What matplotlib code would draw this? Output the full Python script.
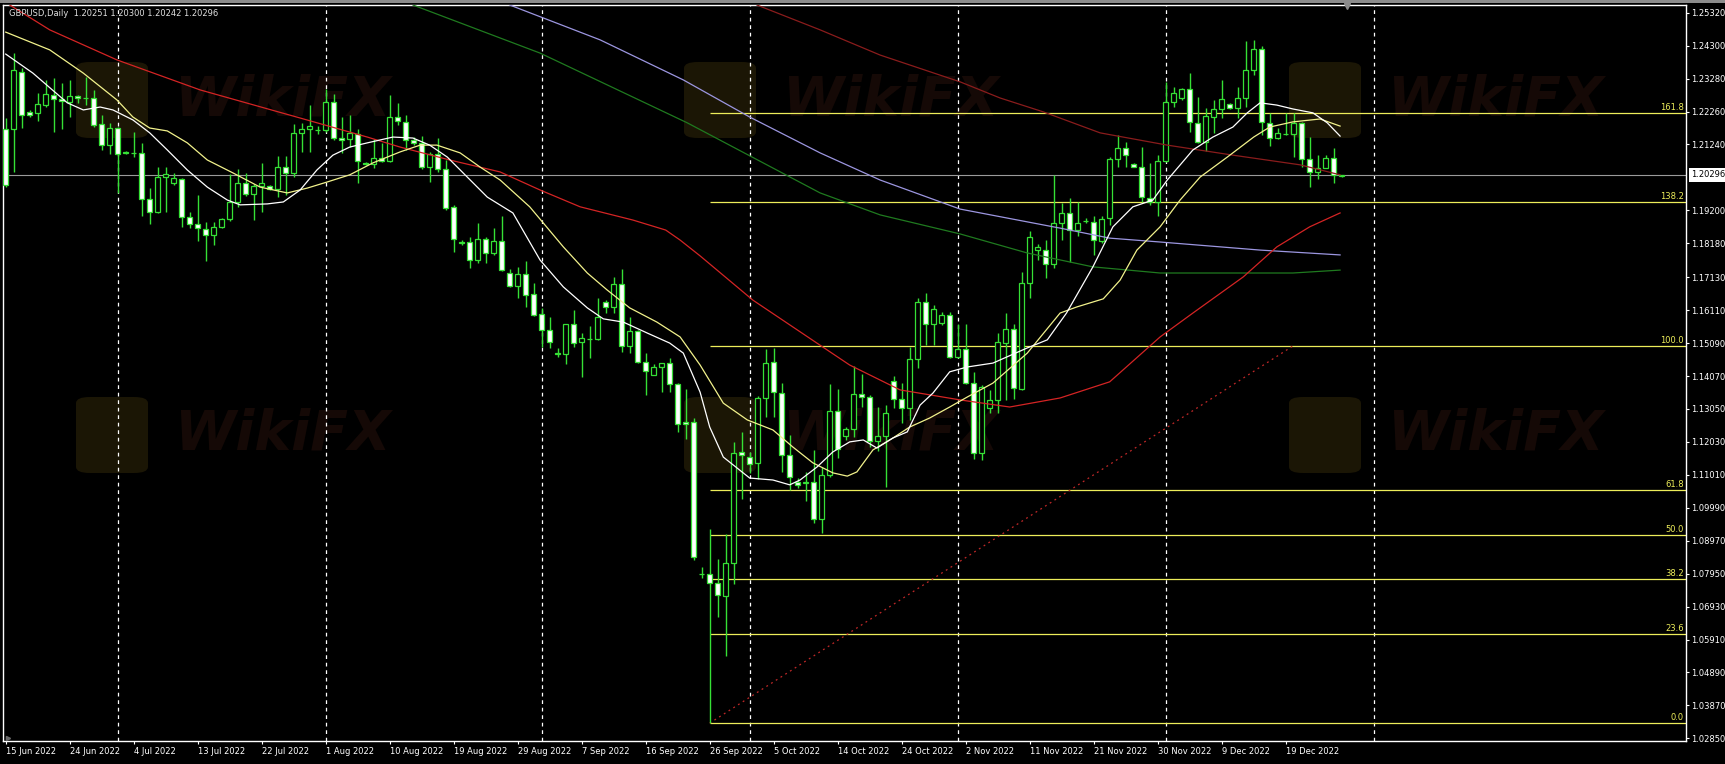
import numpy as np
import matplotlib
matplotlib.use('Agg')
import matplotlib.pyplot as plt
from matplotlib.patches import FancyBboxPatch, Rectangle
from matplotlib.transforms import blended_transform_factory

plt.rcParams['font.family'] = ['DejaVu Sans']
plt.rcParams['font.size'] = 6

title = 'GBPUSD,Daily  1.20251 1.20300 1.20242 1.20296'
bid = 1.20296

# daily candles, 15 Jun 2022 .. 27 Dec 2022 (broker with sunday bars)
opens = [1.2172, 1.2172, 1.2350, 1.2224, 1.2223, 1.2246, 1.2277, 1.2264, 1.2257, 1.2275,
         1.2269, 1.2267, 1.2186, 1.2122, 1.2174, 1.2100, 1.2099, 1.2099, 1.1954, 1.1916,
         1.2022, 1.2006, 1.2016, 1.1898, 1.1877, 1.1861, 1.1844, 1.1867, 1.1892, 1.1947,
         1.2006, 1.1971, 1.1994, 1.1996, 1.1985, 1.2053, 1.2035, 1.2161, 1.2173, 1.2169,
         1.2169, 1.2257, 1.2143, 1.2140, 1.2157, 1.2068, 1.2064, 1.2083, 1.2073, 1.2210,
         1.2195, 1.2138, 1.2128, 1.2055, 1.2095, 1.2047, 1.1931, 1.1821, 1.1821, 1.1766,
         1.1830, 1.1789, 1.1825, 1.1725, 1.1686, 1.1722, 1.1660, 1.1598, 1.1548, 1.1477,
         1.1474, 1.1567, 1.1511, 1.1522, 1.1521, 1.1637, 1.1620, 1.1691, 1.1501, 1.1546,
         1.1451, 1.1410, 1.1434, 1.1446, 1.1381, 1.1264, 1.1264, 1.0794, 1.0794, 1.0767,
         1.0726, 1.0829, 1.1171, 1.1155, 1.1137, 1.1338, 1.1451, 1.1355, 1.1161, 1.1080,
         1.1075, 1.1080, 1.0963, 1.1100, 1.1300, 1.1222, 1.1242, 1.1351, 1.1341, 1.1207,
         1.1222, 1.1393, 1.1335, 1.1307, 1.1459, 1.1637, 1.1568, 1.1570, 1.1596, 1.1467,
         1.1490, 1.1384, 1.1170, 1.1307, 1.1333, 1.1510, 1.1552, 1.1366, 1.1694, 1.1797,
         1.1797, 1.1753, 1.1880, 1.1913, 1.1859, 1.1887, 1.1885, 1.1826, 1.1895, 1.2078,
         1.2112, 1.2063, 1.2053, 1.1957, 1.1947, 1.2074, 1.2257, 1.2267, 1.2295, 1.2192,
         1.2133, 1.2210, 1.2233, 1.2248, 1.2236, 1.2269, 1.2355, 1.2419, 1.2192, 1.2143,
         1.2157, 1.2157, 1.2190, 1.2078, 1.2038, 1.2050, 1.2081, 1.20251]
highs = [1.2205, 1.2406, 1.2360, 1.2231, 1.2283, 1.2324, 1.2329, 1.2313, 1.2324, 1.2277,
         1.2334, 1.2293, 1.2215, 1.2190, 1.2179, 1.2105, 1.2164, 1.2128, 1.1988, 1.2055,
         1.2055, 1.2037, 1.2019, 1.1916, 1.1968, 1.1885, 1.1885, 1.1895, 1.2033, 1.2047,
         1.2037, 1.2002, 1.2066, 1.1999, 1.2088, 1.2088, 1.2188, 1.2190, 1.2246, 1.2181,
         1.2295, 1.2280, 1.2208, 1.2215, 1.2171, 1.2071, 1.2140, 1.2130, 1.2276, 1.2254,
         1.2215, 1.2146, 1.2149, 1.2102, 1.2143, 1.2076, 1.1936, 1.1828, 1.1839, 1.1880,
         1.1836, 1.1864, 1.1903, 1.1737, 1.1744, 1.1763, 1.1694, 1.1617, 1.1589, 1.1495,
         1.1567, 1.1612, 1.1541, 1.1562, 1.1648, 1.1642, 1.1713, 1.1737, 1.1591, 1.1550,
         1.1479, 1.1444, 1.1448, 1.1462, 1.1384, 1.1366, 1.1276, 1.0817, 1.0932, 1.0839,
         1.0917, 1.1204, 1.1235, 1.1173, 1.1345, 1.1490, 1.1493, 1.1384, 1.1224, 1.1090,
         1.1111, 1.1178, 1.1126, 1.1381, 1.1366, 1.1250, 1.1439, 1.1413, 1.1348, 1.1310,
         1.1317, 1.1407, 1.1384, 1.1498, 1.1648, 1.1663, 1.1627, 1.1606, 1.1606, 1.1568,
         1.1568, 1.1420, 1.1379, 1.1364, 1.1541, 1.1601, 1.1568, 1.1730, 1.1857, 1.1816,
         1.1828, 1.2030, 1.1944, 1.1957, 1.1947, 1.1895, 1.1901, 1.1903, 1.2086, 1.2153,
         1.2133, 1.2066, 1.2117, 1.2066, 1.2092, 1.2316, 1.2303, 1.2298, 1.2346, 1.2270,
         1.2236, 1.2262, 1.2324, 1.2252, 1.2303, 1.2446, 1.2448, 1.2429, 1.2221, 1.2174,
         1.2223, 1.2223, 1.2195, 1.2148, 1.2092, 1.2092, 1.2112, 1.20300]
lows = [1.1993, 1.2040, 1.2174, 1.2208, 1.2198, 1.2241, 1.2164, 1.2171, 1.2210, 1.2254,
        1.2246, 1.2179, 1.2107, 1.2095, 1.1975, 1.2095, 1.2086, 1.1901, 1.1877, 1.1913,
        1.1916, 1.1999, 1.1870, 1.1866, 1.1826, 1.1763, 1.1813, 1.1864, 1.1888, 1.1931,
        1.1965, 1.1890, 1.1916, 1.1983, 1.1962, 1.1968, 1.2024, 1.2102, 1.2102, 1.2156,
        1.2164, 1.2138, 1.2099, 1.2117, 1.2004, 1.2060, 1.2050, 1.2070, 1.2070, 1.2184,
        1.2107, 1.2122, 1.2049, 1.2009, 1.2040, 1.1921, 1.1792, 1.1813, 1.1741, 1.1756,
        1.1756, 1.1782, 1.1733, 1.1684, 1.1648, 1.1622, 1.1593, 1.1498, 1.1495, 1.1467,
        1.1443, 1.1496, 1.1405, 1.1462, 1.1517, 1.1603, 1.1601, 1.1482, 1.1479, 1.1448,
        1.1348, 1.1410, 1.1356, 1.1359, 1.1235, 1.1211, 1.0837, 1.0780, 1.0332, 1.0660,
        1.0540, 1.0763, 1.1025, 1.1106, 1.1087, 1.1281, 1.1281, 1.1111, 1.1054, 1.1061,
        1.1020, 1.0953, 1.0922, 1.1095, 1.1152, 1.1209, 1.1219, 1.1312, 1.1188, 1.1176,
        1.1062, 1.1307, 1.1260, 1.1271, 1.1431, 1.1503, 1.1503, 1.1565, 1.1462, 1.1462,
        1.1382, 1.1149, 1.1147, 1.1291, 1.1291, 1.1333, 1.1335, 1.1364, 1.1648, 1.1766,
        1.1710, 1.1741, 1.1828, 1.1761, 1.1841, 1.1880, 1.1782, 1.1820, 1.1875, 1.2055,
        1.2055, 1.2053, 1.1947, 1.1937, 1.1901, 1.2071, 1.2241, 1.2262, 1.2164, 1.2130,
        1.2105, 1.2159, 1.2205, 1.2233, 1.2205, 1.2241, 1.2339, 1.2153, 1.2119, 1.2140,
        1.2153, 1.2086, 1.2055, 1.1991, 1.2016, 1.2050, 1.2004, 1.20242]
closes = [1.1999, 1.2355, 1.2215, 1.2215, 1.2249, 1.2279, 1.2265, 1.2258, 1.2274, 1.2269,
          1.2268, 1.2184, 1.2122, 1.2174, 1.2093, 1.2099, 1.2098, 1.1954, 1.1916, 1.2024,
          1.2033, 1.2019, 1.1898, 1.1877, 1.1864, 1.1844, 1.1867, 1.1892, 1.1947, 1.2004,
          1.1971, 1.1994, 1.2004, 1.1986, 1.2053, 1.2035, 1.2161, 1.2173, 1.2181, 1.2168,
          1.2257, 1.2143, 1.2138, 1.2159, 1.2073, 1.2063, 1.2083, 1.2073, 1.2210, 1.2197,
          1.2138, 1.2128, 1.2055, 1.2095, 1.2047, 1.1928, 1.1830, 1.1820, 1.1766, 1.1830,
          1.1789, 1.1825, 1.1735, 1.1686, 1.1722, 1.1658, 1.1596, 1.1548, 1.1513, 1.1476,
          1.1567, 1.1510, 1.1524, 1.1521, 1.1591, 1.1620, 1.1691, 1.1501, 1.1546, 1.1451,
          1.1424, 1.1434, 1.1446, 1.1381, 1.1257, 1.1257, 1.0848, 1.0793, 1.0765, 1.0729,
          1.0829, 1.1170, 1.1161, 1.1135, 1.1338, 1.1448, 1.1356, 1.1161, 1.1093, 1.1071,
          1.1080, 1.0963, 1.1100, 1.1300, 1.1180, 1.1242, 1.1351, 1.1341, 1.1207, 1.1222,
          1.1294, 1.1335, 1.1307, 1.1459, 1.1637, 1.1568, 1.1614, 1.1596, 1.1467, 1.1490,
          1.1384, 1.1170, 1.1374, 1.1333, 1.1513, 1.1552, 1.1369, 1.1694, 1.1837, 1.1808,
          1.1753, 1.1880, 1.1913, 1.1859, 1.1882, 1.1886, 1.1828, 1.1894, 1.2078, 1.2112,
          1.2091, 1.2055, 1.1962, 1.1947, 1.2074, 1.2257, 1.2283, 1.2295, 1.2195, 1.2133,
          1.2212, 1.2233, 1.2264, 1.2236, 1.2269, 1.2355, 1.2419, 1.2193, 1.2143, 1.2159,
          1.2156, 1.2190, 1.2078, 1.2038, 1.2050, 1.2081, 1.2028, 1.20296]

# moving average lines (bar index, price)
ma_white_x = [0, 3.4, 7.7, 9.7, 11.8, 13.4, 15.9, 18.0, 20.2, 22.7, 25.2, 27.7, 29.3, 32.7, 34.7,
              36.8, 38.9, 40.9, 43.0, 45.2, 48.4, 50.9, 53.0, 55.2, 57.7, 60.2, 63.4, 66.8, 69.7,
              72.7, 74.7, 77.2, 80.2, 83.0, 84.7, 86.8, 88.0, 89.7, 93.0, 95.9, 98.0, 99.3, 101.4,
              103.4, 105.5, 107.2, 108.9, 110.9, 112.7, 114.3, 115.9, 118.0, 120.2, 123.4, 127.7,
              130.2, 132.6, 135.9, 138.4, 140.9, 143.4, 145.2, 148.4, 150.9, 153.4, 155.2, 156.8,
              158.9, 160.9, 163.4, 165.2, 166.8]
ma_white_y = [1.2404, 1.2345, 1.2253, 1.2231, 1.2240, 1.2231, 1.2200, 1.2160, 1.2107, 1.2045,
              1.1992, 1.1952, 1.1937, 1.1940, 1.1946, 1.1983, 1.2045, 1.2091, 1.2116, 1.2129,
              1.2147, 1.2144, 1.2122, 1.2085, 1.2023, 1.1961, 1.1912, 1.1766, 1.1683, 1.1618,
              1.1584, 1.1574, 1.1540, 1.1509, 1.1478, 1.1357, 1.1249, 1.1156, 1.1091, 1.1085,
              1.1070, 1.1085, 1.1125, 1.1172, 1.1203, 1.1209, 1.1184, 1.1215, 1.1234, 1.1317,
              1.1354, 1.1420, 1.1435, 1.1447, 1.1494, 1.1519, 1.1602, 1.1745, 1.1869, 1.1931,
              1.1952, 1.2014, 1.2107, 1.2147, 1.2178, 1.2222, 1.2253, 1.2246, 1.2234, 1.2222,
              1.2191, 1.2150]
ma_yellow_x = [0, 5.5, 9.7, 13.9, 15.9, 18.0, 20.2, 22.7, 25.2, 28.4, 31.8, 35.2, 37.7, 40.2, 43.0,
               45.9, 49.3, 51.8, 53.9, 56.8, 59.3, 61.8, 65.5, 69.7, 72.7, 75.2, 78.0, 81.4, 84.3,
               86.8, 89.7, 92.7, 95.9, 98.4, 100.9, 103.4, 105.2, 106.4, 108.4, 110.9, 113.0, 115.5,
               118.0, 120.2, 123.4, 127.7, 131.8, 133.9, 137.2, 139.3, 141.4, 144.3, 146.8, 149.3,
               152.7, 156.0, 158.0, 160.9, 164.3, 166.8]
ma_yellow_y = [1.2472, 1.2417, 1.2345, 1.2262, 1.2209, 1.2175, 1.2166, 1.2129, 1.2076, 1.2036,
               1.1992, 1.1974, 1.1989, 1.2008, 1.2030, 1.2067, 1.2101, 1.2122, 1.2122, 1.2098,
               1.2054, 1.2014, 1.1931, 1.1807, 1.1726, 1.1673, 1.1618, 1.1574, 1.1528, 1.1441,
               1.1323, 1.1271, 1.1240, 1.1187, 1.1138, 1.1107, 1.1097, 1.1110, 1.1178, 1.1215,
               1.1249, 1.1277, 1.1311, 1.1342, 1.1385, 1.1478, 1.1602, 1.1621, 1.1646, 1.1704,
               1.1797, 1.1869, 1.1952, 1.2023, 1.2085, 1.2147, 1.2178, 1.2194, 1.2203, 1.2181]
ma_red_x = [0.5, 5.5, 13.9, 24.3, 36.8, 45.2, 49.3, 55.5, 61.8, 66.8, 71.8, 78.4, 82.5, 84.3, 86.8,
            93.4, 101.4, 105.5, 111.8, 119.3, 125.5, 131.8, 138.0, 144.3, 148.4, 154.7, 158.9,
            163.0, 166.8]
ma_red_y = [1.2556, 1.2479, 1.2386, 1.2293, 1.2206, 1.2147, 1.2116, 1.2076, 1.2039, 1.1983,
            1.1931, 1.1890, 1.1859, 1.1828, 1.1779, 1.1642, 1.1509, 1.1441, 1.1364, 1.1333,
            1.1311, 1.1339, 1.1389, 1.1528, 1.1602, 1.1714, 1.1807, 1.1869, 1.1912]
ma_maroon_x = [93.9, 101.8, 109.3, 119.3, 124.3, 129.7, 136.8, 145.2, 153.4, 161.8, 166.8]
ma_maroon_y = [1.2556, 1.2479, 1.2401, 1.2318, 1.2268, 1.2225, 1.2160, 1.2122, 1.2091, 1.2061, 1.2030]
ma_lilac_x = [63.0, 74.3, 84.7, 93.0, 101.8, 109.3, 119.3, 131.8, 138.0, 144.3, 156.8, 166.8]
ma_lilac_y = [1.2556, 1.2448, 1.2324, 1.2209, 1.2098, 1.2014, 1.1924, 1.1865, 1.1834, 1.1822,
              1.1797, 1.1782]
ma_green_x = [50.9, 66.8, 85.2, 101.8, 109.3, 119.3, 127.7, 135.9, 144.3, 160.9, 166.8]
ma_green_y = [1.2556, 1.2407, 1.2191, 1.1974, 1.1906, 1.1847, 1.1788, 1.1745, 1.1726, 1.1726, 1.1735]

# fibonacci retracement
fib_low = 1.0332
fib_high = 1.1500
fib_levels = [0.0, 23.6, 38.2, 50.0, 61.8, 100.0, 138.2, 161.8]
fib_start_bar = 88
fib_end_bar = 160.9

date_labels = ['15 Jun 2022', '24 Jun 2022', '4 Jul 2022', '13 Jul 2022', '22 Jul 2022',
               '1 Aug 2022', '10 Aug 2022', '19 Aug 2022', '29 Aug 2022', '7 Sep 2022',
               '16 Sep 2022', '26 Sep 2022', '5 Oct 2022', '14 Oct 2022', '24 Oct 2022',
               '2 Nov 2022', '11 Nov 2022', '21 Nov 2022', '30 Nov 2022', '9 Dec 2022',
               '19 Dec 2022']
price_ticks = [1.25320, 1.24300, 1.23280, 1.22260, 1.21240, 1.19200, 1.18180, 1.17130,
               1.16110, 1.15090, 1.14070, 1.13050, 1.12030, 1.11010, 1.09990, 1.08970,
               1.07950, 1.06930, 1.05910, 1.04890, 1.03870, 1.02850]
grid_bars = [14, 40, 67, 93, 119, 145, 171]

candle_green = '#35e035'
fib_color = '#eded5a'

W, H = 1725, 764
fig = plt.figure(figsize=(W / 100, H / 100), dpi=100, facecolor='black')
ax = fig.add_axes([3 / W, 23 / H, 1683 / W, 736.3 / H], facecolor='black')
ax.set_xlim(-0.34, 210.04)
ax.set_ylim(1.02767, 1.25569)

# watermark (very faint)
for lx, ly in [(112, 100), (720, 100), (1325, 100), (112, 435), (720, 435), (1325, 435)]:
    box = FancyBboxPatch(((lx - 36) / W, 1 - (ly + 38) / H), 72 / W, 76 / H,
                         boxstyle='round,pad=0,rounding_size=0.008', transform=fig.transFigure,
                         facecolor='#1b1605', edgecolor='none', zorder=0.5)
    ax.add_patch(box)
    ax.text((lx + 62) / W, 1 - ly / H, 'WikiFX', transform=fig.transFigure, fontsize=40,
            fontweight='bold', fontstyle='italic', color='#150906', va='center', ha='left',
            zorder=0.6, clip_on=True)

# vertical grid
for gb in grid_bars:
    ax.axvline(gb, color='white', lw=0.9, ls=(0, (3, 3)), zorder=1)

# current price line
ax.axhline(bid, color='#9a9a9a', lw=0.8, zorder=1.5)

# fibo
rng = fib_high - fib_low
for lv in fib_levels:
    p = fib_low + rng * lv / 100.0
    ax.hlines(p, fib_start_bar, 215, color=fib_color, lw=0.9, zorder=2)
    ax.annotate('%.1f' % lv, xy=(1, p), xycoords=blended_transform_factory(ax.transAxes, ax.transData),
                xytext=(-1.5, 0.6), textcoords='offset points', ha='right', va='bottom',
                color=fib_color, fontsize=6, zorder=6)
ax.plot([fib_start_bar, fib_end_bar], [fib_low, fib_high], color='#c02828', lw=0.9,
        ls=(0, (1.5, 3)), zorder=2)

# candles
o = np.array(opens)
h = np.array(highs)
l = np.array(lows)
c = np.array(closes)
x = np.arange(len(c))
up = c > o
body_lo = np.minimum(o, c)
body_h = np.maximum(np.abs(c - o), 0.00004)
ax.vlines(x, l, h, color=candle_green, lw=1, zorder=3)
ax.bar(x[up], body_h[up], bottom=body_lo[up], width=0.6, facecolor='black',
       edgecolor=candle_green, lw=0.9, zorder=4)
ax.bar(x[~up], body_h[~up], bottom=body_lo[~up], width=0.6, facecolor='white',
       edgecolor=candle_green, lw=0.9, zorder=4)

# moving averages
ax.plot(ma_green_x, ma_green_y, color='#1f7a1f', lw=0.9, zorder=5)
ax.plot(ma_lilac_x, ma_lilac_y, color='#9c96e0', lw=0.9, zorder=5)
ax.plot(ma_maroon_x, ma_maroon_y, color='#8a1c1c', lw=0.9, zorder=5)
ax.plot(ma_red_x, ma_red_y, color='#d42424', lw=0.9, zorder=5)
ax.plot(ma_yellow_x, ma_yellow_y, color='#f2f28c', lw=0.9, zorder=5)
ax.plot(ma_white_x, ma_white_y, color='white', lw=0.9, zorder=5)

# axes look
for s in ax.spines.values():
    s.set_color('white')
    s.set_linewidth(1)
ax.yaxis.tick_right()
ax.set_yticks(price_ticks)
ax.set_yticklabels(['%.5f' % p for p in price_ticks])
ax.set_xticks(range(0, 8 * len(date_labels), 8))
ax.set_xticklabels(date_labels)
for lbl in ax.get_xticklabels():
    lbl.set_ha('left')
ax.tick_params(axis='y', colors='white', length=2.2, width=0.8, pad=1.2, labelsize=6)
ax.tick_params(axis='x', colors='white', length=2.5, width=0.8, pad=1.5, labelsize=6)

ax.annotate('%.5f' % bid, xy=(1, bid), xycoords=blended_transform_factory(ax.transAxes, ax.transData),
            xytext=(3.4, 0), textcoords='offset points', ha='left', va='center', color='black',
            fontsize=6, bbox=dict(boxstyle='square,pad=0.25', fc='white', ec='none'),
            annotation_clip=False, zorder=10)

ax.text(9 / W, 1 - 13.3 / H, title, transform=fig.transFigure, color='#e0e0e0', fontsize=6,
        va='center', ha='left', zorder=10)

ax.plot([167.7], [1.2552], marker='v', ms=4, color='#8a8a8a', clip_on=False, zorder=10)
ax.plot([0.3], [1.0285], marker='>', ms=3, color='#6a6a6a', clip_on=False, zorder=10)
fig.add_artist(Rectangle((0, 1 - 3 / H), 1, 3 / H, transform=fig.transFigure,
                         facecolor='#8c8c8c', edgecolor='none'))

fig.savefig('out.png', dpi=100, facecolor='black')
